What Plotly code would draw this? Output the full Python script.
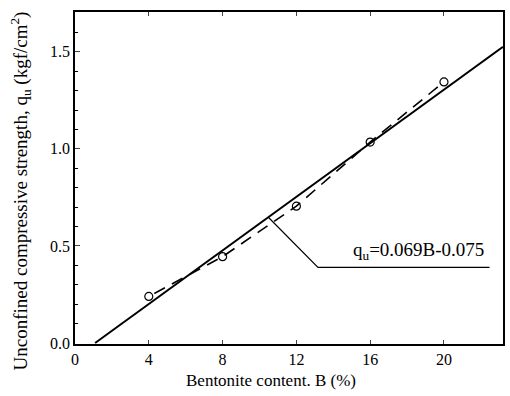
import plotly.graph_objects as go

bentonite = [4, 8, 12, 16, 20]
strength = [0.24, 0.445, 0.705, 1.035, 1.345]
fit_slope = 0.069
fit_intercept = -0.075
fit_x = [1.09, 23.2]
dash_x = [4.3, 8, 12, 16, 20]
dash_y = [0.255, 0.445, 0.705, 1.035, 1.345]
leader_x = [10.48, 13.17, 22.47]
leader_y = [0.648, 0.39, 0.39]

fig = go.Figure()
fig.add_trace(go.Scatter(x=fit_x, y=[fit_slope * v + fit_intercept for v in fit_x],
                         mode="lines", line=dict(color="black", width=2), showlegend=False))
fig.add_trace(go.Scatter(x=dash_x, y=dash_y, mode="lines",
                         line=dict(color="black", width=1.6, dash="12px,8px"), showlegend=False))
fig.add_trace(go.Scatter(x=bentonite, y=strength, mode="markers",
                         marker=dict(symbol="circle-open", size=8, color="black", line=dict(width=1.2)),
                         showlegend=False))
fig.add_trace(go.Scatter(x=leader_x, y=leader_y, mode="lines",
                         line=dict(color="black", width=1.2), showlegend=False))
fig.add_annotation(x=22.3, y=0.39, xanchor="right", yanchor="bottom", yshift=2,
                   text="q<sub>u</sub>=0.069B-0.075", showarrow=False,
                   font=dict(family="Liberation Serif", size=19, color="black"))
fig.add_annotation(xref="paper", yref="paper", x=-0.128, y=0.46, textangle=-90,
                   text="Unconfined compressive strength, q<sub>u</sub> (kgf/cm<sup>2</sup>)",
                   showarrow=False, xanchor="center", yanchor="middle",
                   font=dict(family="Liberation Serif", size=19, color="black"))
fig.add_annotation(xref="paper", yref="paper", x=0.458, y=-0.111,
                   text="Bentonite content. B (%)",
                   showarrow=False, xanchor="center", yanchor="middle",
                   font=dict(family="Liberation Serif", size=17, color="black"))

fig.update_layout(
    width=510, height=396,
    margin=dict(l=75, r=5, t=12, b=52),
    plot_bgcolor="white", paper_bgcolor="white",
    font=dict(family="Liberation Serif", size=16, color="black"),
)
fig.update_xaxes(range=[0, 23.2], tickvals=[0, 4, 8, 12, 16, 20], ticks="inside", ticklen=4,
                 showline=True, linecolor="black", linewidth=1.5, mirror="ticks", showgrid=False,
                 zeroline=False)
fig.update_yaxes(range=[-0.005, 1.705], tickvals=[0, 0.5, 1.0, 1.5], ticktext=["0.0", "0.5", "1.0", "1.5"],
                 ticks="inside", ticklen=5,
                 minor=dict(dtick=0.1, ticks="inside", ticklen=3, tickcolor="black"),
                 showline=True, linecolor="black", linewidth=1.5, mirror=True, showgrid=False,
                 zeroline=False)

fig.write_html("out.html")
